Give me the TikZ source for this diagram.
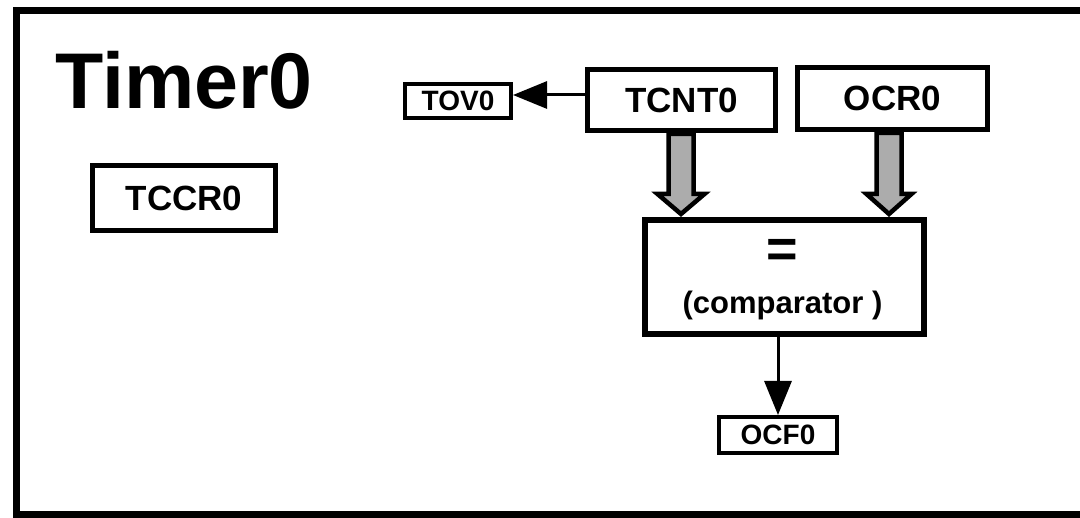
\documentclass[tikz,border=0pt]{standalone}
\usepackage{fontspec}
\setmainfont{Liberation Sans}
\usetikzlibrary{arrows.meta,calc}
\begin{document}
\begin{tikzpicture}[x=1pt,y=-1pt,
  regbox/.style={draw, line width=5pt, inner sep=0pt, font=\bfseries\fontsize{35}{35}\selectfont},
  smallbox/.style={draw, line width=4pt, inner sep=0pt, font=\bfseries\fontsize{28}{28}\selectfont},
  thinarrow/.style={line width=3pt, -{Triangle[length=34pt,width=27pt]}},
  bigarrow/.style={draw=black, line width=4.5pt, fill=gray!65, line join=miter},
  txt/.style={inner sep=0pt, font=\bfseries}]
\useasboundingbox (0,0) rectangle (1080,518);
\fill[white] (0,0) rectangle (1080,518);
% frame
\draw[line width=7pt, line join=miter] (1080,10.5) -- (16.5,10.5) -- (16.5,515) -- (1080,515);
% title
\node[txt, anchor=base west, font=\bfseries\fontsize{79}{79}\selectfont] (title) at (55,109) {Timer0};
% registers
\node[regbox, minimum width=183pt, minimum height=65pt] (tccr) at (184,198) {TCCR0};
\node[smallbox, minimum width=106pt, minimum height=34pt] (tov) at (458,101) {TOV0};
\node[regbox, minimum width=188pt, minimum height=61pt] (tcnt) at (681.5,100) {TCNT0};
\node[regbox, minimum width=190pt, minimum height=62pt] (ocr) at (892.5,98.5) {OCR0};
\node[draw, line width=6pt, inner sep=0pt, minimum width=279pt, minimum height=114pt] (comp) at (784.5,277) {};
\node[txt, font=\bfseries\fontsize{54}{54}\selectfont] (eq) at ($(comp.center)+(-2,-24)$) {=};
\node[txt, font=\bfseries\fontsize{31}{31}\selectfont] (cmpl) at ($(comp.center)+(-2,28)$) {(comparator )};
\node[smallbox, minimum width=118pt, minimum height=36pt] (ocf) at (778,435) {OCF0};
% connectors
\draw[thinarrow] (tcnt.west |- 0,95) -- (tov.east |- 0,95);
\draw[thinarrow] (comp.south -| ocf.north) -- (ocf.north);
\draw[bigarrow] ($(tcnt.south)+(-13,1)$) -- ++(0,60) -- ++(-11,0) -- ++(23.5,20) -- ++(23.5,-20) -- ++(-11,0) -- ++(0,-60) -- cycle;
\draw[bigarrow] ($(ocr.south)+(-16,1)$) -- ++(0,61) -- ++(-10,0) -- ++(22.5,20) -- ++(22.5,-20) -- ++(-10,0) -- ++(0,-61) -- cycle;
\end{tikzpicture}
\end{document}
